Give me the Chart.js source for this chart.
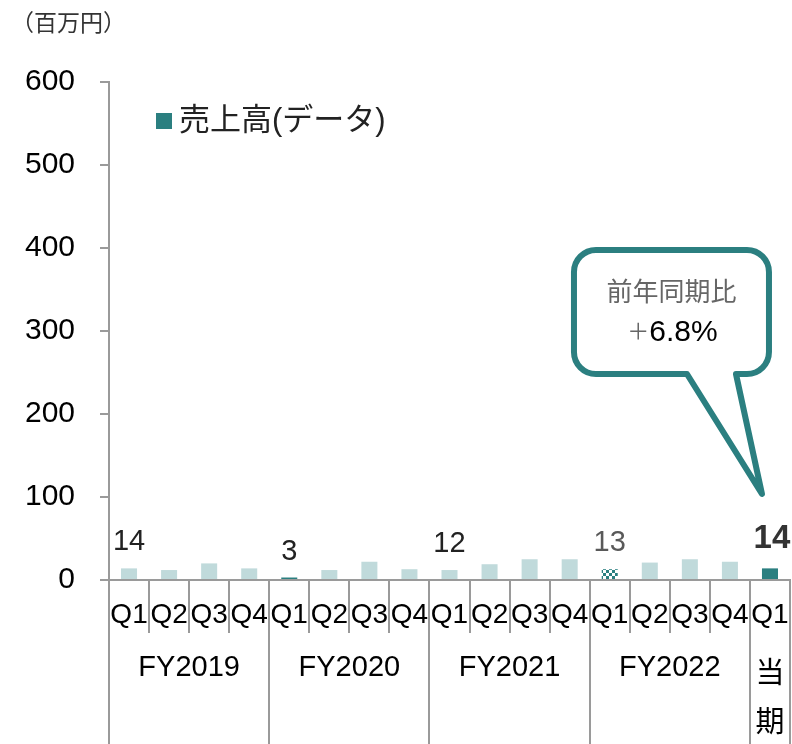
<!DOCTYPE html>
<html lang="ja">
<head>
<meta charset="utf-8">
<script src="https://cdn.jsdelivr.net/npm/chart.js@4/dist/chart.umd.min.js"></script>
<style>
  body { margin: 0; background: #fff; }
  #wrap { width: 792px; height: 744px; position: relative; }
</style>
</head>
<body>
<div id="wrap"><canvas id="sales"></canvas></div>
<script>
// X AXIS: quarters, grouped by fiscal year
let quarters = [
    "Q1", "Q2", "Q3", "Q4",
    "Q1", "Q2", "Q3", "Q4",
    "Q1", "Q2", "Q3", "Q4",
    "Q1", "Q2", "Q3", "Q4",
    "Q1",
];
let fiscalYears = ["FY2019", "FY2020", "FY2021", "FY2022", "当期"];
let quartersPerYear = [4, 4, 4, 4, 1];

// SALES (百万円)
let sales = [
    14, 12, 20, 14,
    3, 12, 22, 13,
    12, 19, 25, 25,
    13, 21, 25, 22,
    14,
];
// bars that carry a value label
let labeledBars = [0, 4, 8, 12, 16];

// callout text
let yoyTitle = "前年同期比";
let yoyValue = "6.8%";

const FONT = "'Liberation Sans', 'Noto Sans CJK JP', sans-serif";
const TEAL = "#2B7F80";
const LIGHT = "#C0DADB";
const GRID = "#9a9a9a";

// checker pattern for the hatched bar
function checker() {
    const c = document.createElement("canvas");
    c.width = 6; c.height = 6;
    const g = c.getContext("2d");
    g.fillStyle = "#fff";
    g.fillRect(0, 0, 6, 6);
    g.fillStyle = TEAL;
    g.fillRect(0, 0, 3, 3);
    g.fillRect(3, 3, 3, 3);
    g.fillRect(1, 1, 1, 1);
    return g.createPattern(c, "repeat");
}
const hatch = checker();

function barColor(ctx) {
    const i = ctx.dataIndex;
    if (i === 4 || i === 16) return TEAL;
    if (i === 12) return hatch;
    return LIGHT;
}

const decorations = {
    id: "decorations",
    afterDatasetsDraw(chart) {
        const ctx = chart.ctx;
        const meta = chart.getDatasetMeta(0);
        ctx.save();
        ctx.textAlign = "center";
        ctx.textBaseline = "middle";
        labeledBars.forEach(i => {
            const bar = meta.data[i];
            const last = i === sales.length - 1;
            ctx.font = last ? "bold 33px " + FONT : "29px " + FONT;
            ctx.fillStyle = i === 12 ? "#595959" : (last ? "#333" : "#222");
            ctx.fillText(String(sales[i]), bar.x + (last ? 2 : 0), bar.y - (last ? 29 : 26));
        });
        ctx.restore();
    },
    afterDraw(chart) {
        const ctx = chart.ctx;
        const x = chart.scales.x, y = chart.scales.y;
        const cw = x.width / quarters.length;
        ctx.save();

        // fiscal year dividers and labels
        ctx.strokeStyle = GRID;
        ctx.lineWidth = 2;
        ctx.fillStyle = "#000";
        ctx.textAlign = "center";
        ctx.textBaseline = "middle";
        ctx.font = "29px " + FONT;
        let start = 0;
        fiscalYears.forEach((fy, k) => {
            const n = quartersPerYear[k];
            const left = x.getPixelForValue(start) - cw / 2;
            const right = x.getPixelForValue(start + n - 1) + cw / 2;
            [left, right].forEach(px => {
                const p = Math.round(px);
                ctx.beginPath();
                ctx.moveTo(p, y.bottom);
                ctx.lineTo(p, chart.height);
                ctx.stroke();
            });
            const cx = (left + right) / 2;
            if (n === 1) {
                [...fy].forEach((ch, j) => ctx.fillText(ch, cx, 675 + j * 49));
            } else {
                ctx.fillText(fy, cx, 668);
            }
            start += n;
        });

        // legend
        ctx.fillStyle = TEAL;
        ctx.fillRect(156, 113, 16, 16);
        ctx.fillStyle = "#222";
        ctx.textAlign = "left";
        ctx.font = "31px " + FONT;
        ctx.fillText("売上高(データ)", 179, 121);

        // unit
        ctx.fillStyle = "#333";
        ctx.font = "23px " + FONT;
        ctx.fillText("（百万円）", 11, 25);

        // callout
        const tipX = x.getPixelForValue(sales.length - 1) - 8;
        const tipY = y.getPixelForValue(100) - 3;
        const L = tipX - 188, R = tipX + 7, T = tipY - 244, B = tipY - 120, r = 22;
        ctx.beginPath();
        ctx.moveTo(L + r, T);
        ctx.lineTo(R - r, T);
        ctx.arcTo(R, T, R, T + r, r);
        ctx.lineTo(R, B - r);
        ctx.arcTo(R, B, R - r, B, r);
        ctx.lineTo(tipX - 26, B);
        ctx.lineTo(tipX, tipY);
        ctx.lineTo(tipX - 75, B);
        ctx.lineTo(L + r, B);
        ctx.arcTo(L, B, L, B - r, r);
        ctx.lineTo(L, T + r);
        ctx.arcTo(L, T, L + r, T, r);
        ctx.closePath();
        ctx.fillStyle = "#fff";
        ctx.fill();
        ctx.lineJoin = "round";
        ctx.lineWidth = 6;
        ctx.strokeStyle = TEAL;
        ctx.stroke();

        const mid = (L + R) / 2;
        ctx.textAlign = "center";
        ctx.fillStyle = "#666";
        ctx.font = "26px " + FONT;
        ctx.fillText(yoyTitle, mid, T + 44);
        ctx.font = "22px " + FONT;
        const plusW = ctx.measureText("＋").width;
        ctx.font = "30px " + FONT;
        const valW = ctx.measureText(yoyValue).width;
        const x0 = mid + 1 - (plusW + valW) / 2;
        ctx.textAlign = "left";
        ctx.font = "22px " + FONT;
        ctx.fillStyle = "#666";
        ctx.fillText("＋", x0, T + 83);
        ctx.font = "30px " + FONT;
        ctx.fillStyle = "#000";
        ctx.fillText(yoyValue, x0 + plusW, T + 83);

        ctx.restore();
    }
};

Chart.defaults.font.family = FONT;

new Chart("sales", {
    type: "bar",
    data: {
        labels: quarters,
        datasets: [
            {
                data: sales,
                backgroundColor: barColor,
                barPercentage: 0.4,
                categoryPercentage: 1,
            },
        ],
    },
    options: {
        responsive: true,
        maintainAspectRatio: false,
        animation: false,
        layout: { padding: { top: 82, right: 2, left: 0, bottom: 0 } },
        plugins: {
            legend: { display: false },
            tooltip: { enabled: false },
        },
        scales: {
            x: {
                grid: {
                    offset: true,
                    drawOnChartArea: false,
                    tickLength: 53,
                    color: GRID,
                    lineWidth: 2,
                },
                border: { color: GRID, width: 2 },
                ticks: {
                    color: "#000",
                    font: { size: 28 },
                    padding: -35,
                    maxRotation: 0,
                    autoSkip: false,
                },
                afterFit: (scale) => { scale.height = 164; },
            },
            y: {
                min: 0,
                max: 600,
                grid: {
                    drawOnChartArea: false,
                    tickLength: 9,
                    color: GRID,
                    lineWidth: 2,
                },
                border: { color: GRID, width: 2 },
                ticks: {
                    stepSize: 100,
                    color: "#000",
                    font: { size: 30 },
                    padding: 25,
                },
                afterFit: (scale) => { scale.width = 109; },
            },
        },
    },
    plugins: [decorations],
});
</script>
</body>
</html>
